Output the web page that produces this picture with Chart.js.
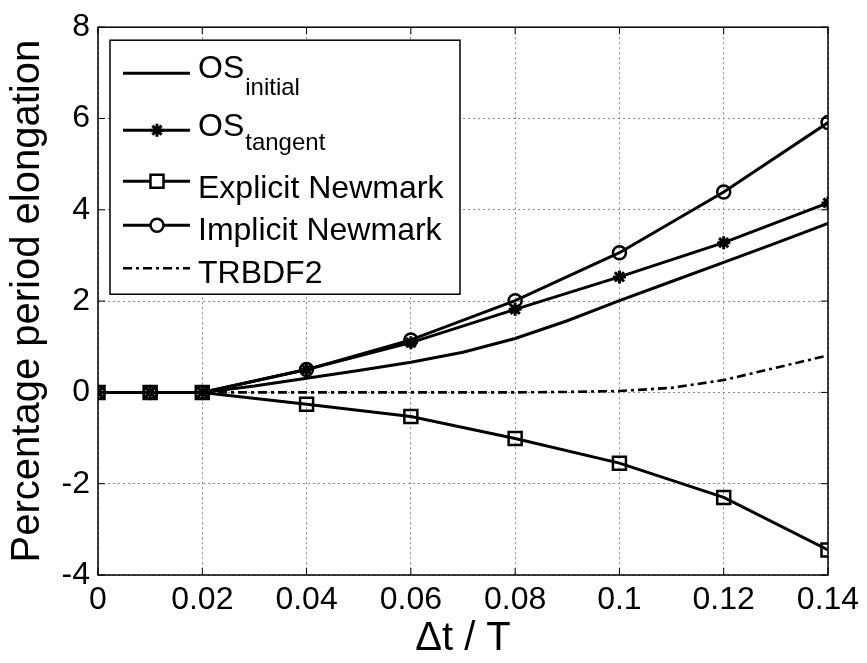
<!DOCTYPE html>
<html>
<head>
<meta charset="utf-8">
<script src="https://cdn.jsdelivr.net/npm/chart.js@4/dist/chart.umd.min.js"></script>
<style>
  html, body { margin: 0; padding: 0; background: #fff; }
  canvas { display: block; }
</style>
</head>
<body>
<canvas id="elongation" width="867" height="663"></canvas>
<script>
// Period elongation vs. time step ratio
const dtSteps = [0, 0.01, 0.02, 0.04, 0.06, 0.08, 0.10, 0.12, 0.14];
const osTangent = [0, 0, 0, 0.50, 1.09, 1.82, 2.53, 3.28, 4.15];
const explicitNewmark = [0, 0, 0, -0.26, -0.53, -1.01, -1.55, -2.30, -3.45];
const implicitNewmark = [0, 0, 0, 0.50, 1.15, 2.01, 3.06, 4.39, 5.91];

// finer sampling for the curves drawn without markers
const dtFine = [0, 0.01, 0.02, 0.03, 0.04, 0.05, 0.06, 0.07, 0.08, 0.09, 0.10, 0.11, 0.12, 0.13, 0.14];
const osInitial = [0, 0, 0, 0.14, 0.31, 0.48, 0.66, 0.88, 1.18, 1.57, 2.01, 2.43, 2.85, 3.27, 3.70];
const trbdf2 = [0, 0, 0, 0, 0, 0, 0, 0, 0, 0.01, 0.03, 0.10, 0.27, 0.54, 0.81];

const xTicks = [0, 0.02, 0.04, 0.06, 0.08, 0.10, 0.12, 0.14];
const xTickLabels = ['0', '0.02', '0.04', '0.06', '0.08', '0.1', '0.12', '0.14'];
const yTicks = [-4, -2, 0, 2, 4, 6, 8];
const yTickLabels = ['-4', '-2', '0', '2', '4', '6', '8'];

// legend entries: [main text, subscript]
const legendLabels = [
  ['OS', 'initial'],
  ['OS', 'tangent'],
  ['Explicit Newmark', ''],
  ['Implicit Newmark', ''],
  ['TRBDF2', '']
];

const FONT = '"Liberation Sans", Arial, Helvetica, sans-serif';
const pts = (xs, ys) => xs.map((x, i) => ({ x, y: ys[i] }));

const base = {
  borderColor: '#000',
  borderWidth: 3,
  pointBorderColor: '#000',
  pointBackgroundColor: 'rgba(0,0,0,0)',
  pointBorderWidth: 2.5,
  fill: false,
  tension: 0
};

const datasets = [
  { ...base, label: 'OS initial', data: pts(dtFine, osInitial), pointRadius: 0 },
  { ...base, label: 'OS tangent', data: pts(dtSteps, osTangent), pointStyle: 'star', pointRadius: 6.5, pointBorderWidth: 3 },
  { ...base, label: 'Explicit Newmark', data: pts(dtSteps, explicitNewmark), pointStyle: 'rect', pointRadius: 9.2 },
  { ...base, label: 'Implicit Newmark', data: pts(dtSteps, implicitNewmark), pointStyle: 'circle', pointRadius: 6.5 },
  { ...base, label: 'TRBDF2', data: pts(dtFine, trbdf2), pointRadius: 0, borderWidth: 2.6, borderDash: [9, 4, 3, 4] }
];

// axes box, inward tick marks and the boxed legend
const matlabFrame = {
  id: 'matlabFrame',
  afterDraw(chart) {
    const { ctx, chartArea: a, scales } = chart;
    ctx.save();
    ctx.strokeStyle = '#000';
    ctx.lineWidth = 1.5;
    ctx.setLineDash([]);
    ctx.strokeRect(a.left, a.top, a.right - a.left, a.bottom - a.top);

    const tl = 7;
    ctx.lineWidth = 1;
    ctx.beginPath();
    xTicks.forEach(v => {
      const px = scales.x.getPixelForValue(v);
      ctx.moveTo(px, a.bottom); ctx.lineTo(px, a.bottom - tl);
      ctx.moveTo(px, a.top); ctx.lineTo(px, a.top + tl);
    });
    yTicks.forEach(v => {
      const py = scales.y.getPixelForValue(v);
      ctx.moveTo(a.left, py); ctx.lineTo(a.left + tl, py);
      ctx.moveTo(a.right, py); ctx.lineTo(a.right - tl, py);
    });
    ctx.stroke();

    // legend box
    const lx = a.left + 12, ly = a.top + 13, lw = 350, lh = 254;
    ctx.fillStyle = '#fff';
    ctx.fillRect(lx, ly, lw, lh);
    ctx.lineWidth = 1.5;
    ctx.strokeRect(lx, ly, lw, lh);

    const rowY = [33, 90, 141, 185, 228];
    const textDy = [5, 6, 17, 15, 15];
    const subDy = [22, 20, 0, 0, 0];
    const x0 = lx + 13, x1 = lx + 80, xm = lx + 47, xt = lx + 88;

    legendLabels.forEach((lab, i) => {
      const ds = datasets[i];
      const y = ly + rowY[i];
      ctx.strokeStyle = '#000';
      ctx.lineWidth = ds.borderWidth;
      ctx.setLineDash(ds.borderDash || []);
      ctx.beginPath();
      ctx.moveTo(x0, y); ctx.lineTo(x1, y);
      ctx.stroke();
      ctx.setLineDash([]);
      if (ds.pointRadius > 0) {
        ctx.lineWidth = ds.pointBorderWidth;
        ctx.fillStyle = '#fff';
        Chart.helpers.drawPoint(ctx, { pointStyle: ds.pointStyle, radius: ds.pointRadius, rotation: 0, borderWidth: ds.pointBorderWidth }, xm, y);
      }
      ctx.fillStyle = '#000';
      ctx.textBaseline = 'alphabetic';
      ctx.textAlign = 'left';
      ctx.font = '32px ' + FONT;
      ctx.fillText(lab[0], xt, y + textDy[i]);
      if (lab[1]) {
        const w = ctx.measureText(lab[0]).width;
        ctx.font = '24px ' + FONT;
        ctx.fillText(lab[1], xt + w + 1, y + subDy[i]);
      }
    });
    ctx.restore();
  }
};

new Chart(document.getElementById('elongation'), {
  type: 'line',
  data: { datasets },
  options: {
    responsive: false,
    animation: false,
    layout: { padding: { top: 14, right: 39, left: 0, bottom: 0 } },
    plugins: { legend: { display: false }, tooltip: { enabled: false } },
    scales: {
      x: {
        type: 'linear',
        min: 0,
        max: 0.14,
        afterBuildTicks: s => { s.ticks = xTicks.map(v => ({ value: v })); },
        afterFit: s => { s.height = 88; },
        ticks: {
          callback: (v, i) => xTickLabels[i],
          font: { size: 32, family: FONT },
          color: '#000',
          padding: 6,
          maxRotation: 0,
          autoSkip: false
        },
        grid: { color: '#8c8c8c', lineWidth: 1, drawTicks: false },
        border: { display: false, dash: [2, 3] },
        title: { display: true, text: 'Δt / T', color: '#000', font: { size: 40, family: FONT }, padding: 0 }
      },
      y: {
        min: -4,
        max: 8,
        afterBuildTicks: s => { s.ticks = yTicks.map(v => ({ value: v })); },
        afterFit: s => { s.width = 98; },
        ticks: {
          callback: (v, i) => yTickLabels[i],
          font: { size: 32, family: FONT },
          color: '#000',
          padding: 8,
          autoSkip: false
        },
        grid: { color: '#8c8c8c', lineWidth: 1, drawTicks: false },
        border: { display: false, dash: [2, 3] },
        title: { display: true, text: 'Percentage period elongation', color: '#000', font: { size: 40, family: FONT }, padding: { top: 4, bottom: 0 } }
      }
    }
  },
  plugins: [matlabFrame]
});
</script>
</body>
</html>
